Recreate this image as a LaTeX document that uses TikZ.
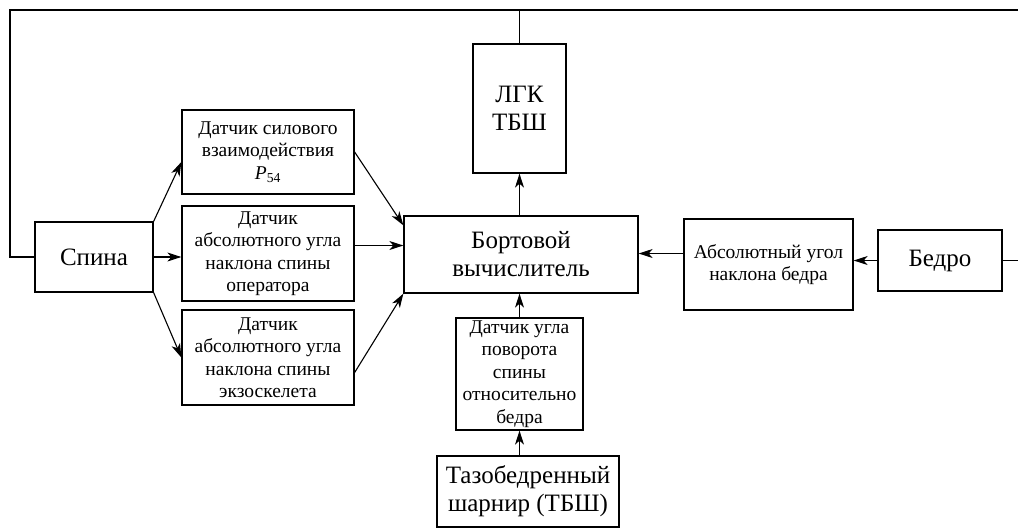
\documentclass[tikz,border=0pt]{standalone}
\usepackage{fontspec}
\setmainfont{Liberation Serif}
\newfontfamily\lserif{Liberation Serif}
\usetikzlibrary{arrows.meta}
\tikzset{
	blk/.style={draw, line width=1.3pt, inner sep=0pt, align=center},
	bigtxt/.style={blk, font=\lserif\fontsize{25}{28}\selectfont},
	smalltxt/.style={blk, font=\lserif\fontsize{19.5}{22.5}\selectfont},
	arr/.style={line width=1.1pt, -{Stealth[length=14pt, width=9pt, inset=4pt]}},
	wire/.style={line width=1.1pt}
}

\begin{document}
\begin{tikzpicture}[x=1pt, y=-1pt]
			%%%%% START %%%%%
			\useasboundingbox (0,0) rectangle (1018,528);
			
			\node[bigtxt, minimum width=118pt, minimum height=70pt] (spina) at (94, 257) {Спина};
			
			\node[smalltxt, minimum width=172pt, minimum height=84pt] (sila) at (268, 152) {Датчик силового\\взаимодействия\\\textit{P}\textsubscript{54}};
			\node[smalltxt, minimum width=172pt, minimum height=95pt] (oper) at (268, 253.5) {Датчик\\абсолютного угла\\наклона спины\\оператора};
			\node[smalltxt, minimum width=172pt, minimum height=95pt] (exo) at (268, 357.5) {Датчик\\абсолютного угла\\наклона спины\\экзоскелета};
			
			\node[bigtxt, minimum width=234pt, minimum height=77pt] (bv) at (521, 254.5) {Бортовой\\вычислитель};
			\node[bigtxt, minimum width=93pt, minimum height=129pt] (lgk) at (519.5, 108.5) {ЛГК\\ТБШ};
			
			\node[smalltxt, minimum width=169pt, minimum height=91pt] (abs) at (768.5, 264.5) {Абсолютный угол\\наклона бедра};
			\node[bigtxt, minimum width=124pt, minimum height=61pt] (bedro) at (940, 260.5) {Бедро};
			
			\node[smalltxt, minimum width=127pt, minimum height=112pt] (povorot) at (519.5, 374) {Датчик угла\\поворота\\спины\\относительно\\бедра};
			\node[bigtxt, minimum width=182pt, minimum height=71pt] (tbsh) at (528, 491.5) {Тазобедренный\\шарнир (ТБШ)};
			
			% feedback loop
			\coordinate (topL) at (10, 10);
			\coordinate (topR) at (1018, 10);
			\draw[wire] (spina.west) -| (topL) -- (topR);
			\draw[wire] (lgk.north) -- (lgk.north |- topL);
			\draw[wire] (bedro.east) -- (bedro.east -| topR);
			
			% sensors of the back
			\draw[arr] (spina.north east) -- ([yshift=-10pt]sila.west);
			\draw[arr] (spina.east) -- (spina.east -| oper.west);
			\draw[arr] (spina.south east) -- (exo.west);
			
			\draw[arr] (sila.east) -- ([yshift=-10pt]bv.north west);
			\draw[arr] ([yshift=8pt]oper.east) -- ([yshift=8pt]oper.east -| bv.west);
			\draw[arr] ([yshift=-15pt]exo.east) -- (bv.south west);
			
			% hip side
			\draw[arr] (bedro.west) -- (bedro.west -| abs.east);
			\draw[arr] ([yshift=11pt]abs.west) -- ([yshift=11pt]abs.west -| bv.east);
			
			\draw[arr] (tbsh.north -| povorot.south) -- (povorot.south);
			\draw[arr] (povorot.north) -- (povorot.north |- bv.south);
			\draw[arr] (bv.north -| lgk.south) -- (lgk.south);
			
			%%%%% END %%%%%
\end{tikzpicture}
\end{document}
